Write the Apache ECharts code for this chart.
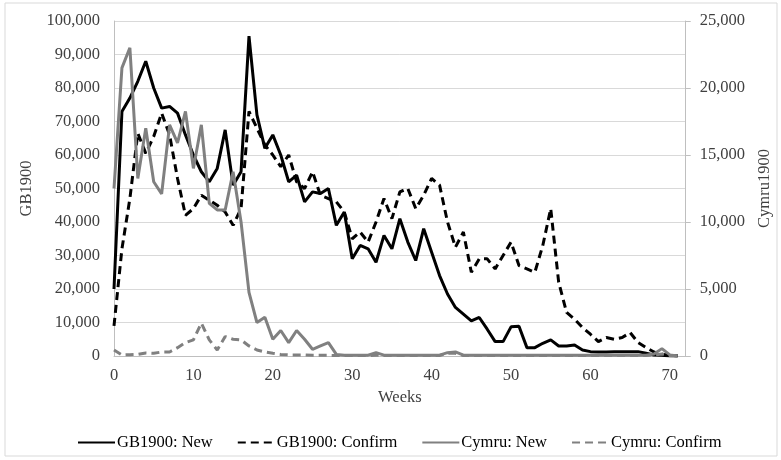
<!DOCTYPE html>
<html>
<head>
<meta charset="utf-8">
<script src="https://cdn.jsdelivr.net/npm/echarts@6/dist/echarts.min.js"></script>
<style>html,body{margin:0;padding:0;background:#fff;}#c{width:781px;height:460px;}</style>
</head>
<body>
<div id="c"></div>
<script>
const weeks = Array.from({length: 72}, (_, i) => i);
const seriesNames = ['GB1900: New', 'GB1900: Confirm', 'Cymru: New', 'Cymru: Confirm'];
const gbNew = [20000,73000,77000,82000,88000,80000,74000,74500,72500,66000,
  60000,55000,52000,56000,67500,51000,55000,95500,72000,62000,
  66000,60000,52000,54000,46000,49000,48500,50000,39000,43000,
  29000,33000,32000,28000,36000,32000,41000,34000,28500,38000,
  31000,24000,18500,14500,12500,10500,11500,8000,4300,4300,
  8700,8900,2500,2500,3800,4800,3000,3000,3300,1800,
  1300,1200,1200,1300,1300,1300,1300,800,300,200,0,0];
const gbConfirm = [9000,32000,47000,66500,60500,65500,72500,66000,53000,42000,
  44000,48000,46500,45000,43000,39000,44000,73000,68000,63000,
  60000,56500,60000,52000,50000,55000,48000,47000,46000,43000,
  35000,37000,34000,40000,47000,41000,49000,50000,44000,48000,
  53000,51000,40000,32500,37000,25000,29000,29000,26000,30000,
  34000,27000,26000,25000,33000,44000,22000,13000,11000,8500,
  6500,4300,5500,5000,5500,7000,4000,2500,1200,500,200,0];
const cyNew = [12500,21500,23000,13250,17000,13000,12100,17250,15900,18250,
  14000,17250,11400,10900,10900,13750,10000,4750,2500,2900,
  1250,1900,1000,1900,1250,500,750,1000,120,60,
  60,60,60,250,60,60,60,60,60,60,
  60,60,250,300,60,60,60,60,60,60,
  60,60,60,60,60,60,60,60,60,60,
  60,60,60,60,60,60,60,60,150,550,80,0];
const cyConfirm = [450,80,100,120,230,200,300,300,620,1000,
  1200,2450,1200,450,1450,1250,1200,750,450,300,
  200,120,80,80,80,50,50,50,40,40,
  40,40,40,60,40,40,40,40,40,40,
  40,40,200,200,40,40,40,40,40,40,
  40,40,40,40,40,40,40,40,40,40,
  40,40,40,40,40,40,40,40,80,150,40,0];
const leftTicks = {min: 0, max: 100000, interval: 10000};
const rightTicks = {min: 0, max: 25000, interval: 5000};
const xTicks = {min: 0, max: 72, interval: 10};

const font = 'Liberation Serif';
const fs = 16.5;
const labelColor = '#404040';
const pair = (arr) => weeks.map((w, i) => [w, arr[i]]);
const fmt = (v) => v.toLocaleString('en-US');

const chart = echarts.init(document.getElementById('c'), null, {renderer: 'canvas'});
chart.setOption({
  backgroundColor: '#fff',
  animation: false,
  graphic: [{type: 'rect', shape: {x: 5, y: 3, width: 772, height: 453}, style: {fill: 'none', stroke: '#d9d9d9', lineWidth: 1}}],
  grid: {left: 114, right: 91, top: 21, bottom: 104},
  legend: {
    left: 72, top: 429, itemWidth: 37, itemHeight: 12, itemGap: 24,
    itemStyle: {opacity: 0},
    textStyle: {fontFamily: font, fontSize: fs, color: '#000', padding: [0, 0, 0, -3]},
    data: seriesNames
  },
  xAxis: {
    type: 'value', min: xTicks.min, max: xTicks.max, interval: xTicks.interval,
    name: 'Weeks', nameLocation: 'middle', nameGap: 33,
    nameTextStyle: {fontFamily: font, fontSize: fs, color: labelColor},
    axisLine: {show: true, lineStyle: {color: '#bfbfbf', width: 1}},
    axisTick: {show: false},
    splitLine: {show: false},
    axisLabel: {fontFamily: font, fontSize: fs, color: labelColor, margin: 11, showMaxLabel: false}
  },
  yAxis: [{
    type: 'value', min: leftTicks.min, max: leftTicks.max, interval: leftTicks.interval,
    name: 'GB1900', nameLocation: 'middle', nameGap: 74, nameRotate: 90,
    nameTextStyle: {fontFamily: font, fontSize: fs, color: labelColor},
    axisLine: {show: true, lineStyle: {color: '#bfbfbf', width: 1}},
    axisTick: {show: false},
    splitLine: {show: true, lineStyle: {color: '#d9d9d9', width: 1}},
    axisLabel: {fontFamily: font, fontSize: fs, color: labelColor, margin: 14, formatter: fmt}
  }, {
    type: 'value', position: 'right', min: rightTicks.min, max: rightTicks.max, interval: rightTicks.interval,
    name: 'Cymru1900', nameLocation: 'middle', nameGap: 68, nameRotate: 90,
    nameTextStyle: {fontFamily: font, fontSize: fs, color: labelColor},
    axisLine: {show: true, lineStyle: {color: '#bfbfbf', width: 1}},
    axisTick: {show: true, length: 5, lineStyle: {color: '#bfbfbf'}},
    splitLine: {show: false},
    axisLabel: {fontFamily: font, fontSize: fs, color: labelColor, margin: 14, formatter: fmt}
  }],
  series: [
    {name: seriesNames[0], type: 'line', yAxisIndex: 0, data: pair(gbNew), symbol: 'none', lineStyle: {color: '#000', width: 3}, itemStyle: {color: '#000'}},
    {name: seriesNames[1], type: 'line', yAxisIndex: 0, data: pair(gbConfirm), symbol: 'none', lineStyle: {color: '#000', width: 3, type: [8, 5]}, itemStyle: {color: '#000'}},
    {name: seriesNames[2], type: 'line', yAxisIndex: 1, data: pair(cyNew), symbol: 'none', lineStyle: {color: '#808080', width: 3}, itemStyle: {color: '#808080'}},
    {name: seriesNames[3], type: 'line', yAxisIndex: 1, data: pair(cyConfirm), symbol: 'none', lineStyle: {color: '#808080', width: 3, type: [8, 5]}, itemStyle: {color: '#808080'}}
  ]
});
</script>
</body>
</html>
